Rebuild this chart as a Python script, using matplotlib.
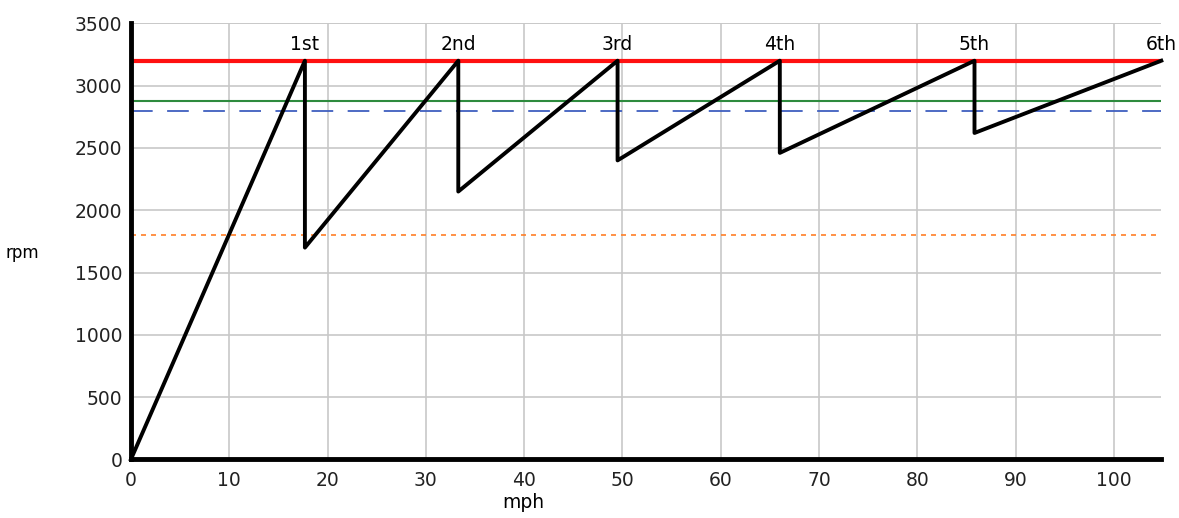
import matplotlib
matplotlib.use("Agg")
import matplotlib.pyplot as plt

# data
speed_mph = [0, 17.7, 17.7, 33.3, 33.3, 49.5, 49.5, 66.0, 66.0, 85.8, 85.8, 104.8]
engine_rpm = [0, 3200, 1700, 3200, 2150, 3200, 2400, 3200, 2460, 3200, 2620, 3200]
gear_labels = ["1st", "2nd", "3rd", "4th", "5th", "6th"]
shift_speeds = [17.7, 33.3, 49.5, 66.0, 85.8, 104.8]
redline_rpm = 3200
green_rpm = 2880
blue_rpm = 2800
orange_rpm = 1800
x_ticks = [0, 10, 20, 30, 40, 50, 60, 70, 80, 90, 100]
y_ticks = [0, 500, 1000, 1500, 2000, 2500, 3000, 3500]

plt.rcParams['font.family'] = ['DejaVu Sans']
FS = 13.5
fig = plt.figure(figsize=(11.79, 5.18), dpi=100)
ax = fig.add_axes([0.111, 0.113, 0.874, 0.842])
xmax = 104.8
ax.set_xlim(0, xmax)
ax.set_ylim(0, 3500)
ax.set_xticks(x_ticks)
ax.set_yticks(y_ticks)
ax.grid(True, color='#c8c8c8', linewidth=1.2)
ax.set_axisbelow(True)
for s in ['top', 'right']:
    ax.spines[s].set_visible(False)
for s in ['left', 'bottom']:
    ax.spines[s].set_linewidth(3.5)
    ax.spines[s].set_color('black')
ax.tick_params(axis='both', length=0, labelsize=FS, colors='#222222')
ax.tick_params(axis='x', pad=8.5)
ax.tick_params(axis='y', pad=6)
ax.axhline(3500, color='#c8c8c8', linewidth=1.2, zorder=0)

ax.axhline(orange_rpm, color='#ff7f27', linewidth=1.2, linestyle=(0, (3, 3)))
ax.axhline(blue_rpm, color='#3f5fbf', linewidth=1.3, linestyle=(0, (12, 8)))
ax.axhline(green_rpm, color='#2e8b3e', linewidth=1.5)
ax.axhline(redline_rpm, color='#ff1010', linewidth=3)
ax.plot(speed_mph, engine_rpm, color='black', linewidth=2.8, clip_on=False, zorder=5)

for lab, sx in zip(gear_labels, shift_speeds):
    ax.text(sx, redline_rpm + 55, lab, ha='center', va='bottom', fontsize=FS, clip_on=False)

ax.set_xlabel('mph', fontsize=FS)
ax.xaxis.set_label_coords(0.381, -0.078)
fig.text(22 / 1179, 1 - 253 / 518, 'rpm', ha='center', va='center', fontsize=12)

fig.savefig('out.png', dpi=100)
